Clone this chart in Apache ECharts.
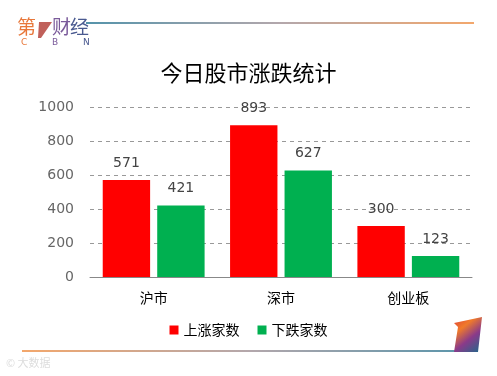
<!DOCTYPE html>
<html>
<head>
<meta charset="utf-8">
<script src="https://cdn.jsdelivr.net/npm/echarts@6/dist/echarts.min.js"></script>
<style>
html, body { margin: 0; padding: 0; background: #fff; }
#main { width: 497px; height: 376px; }
</style>
</head>
<body>
<div id="main"></div>
<script>
var categories = ['沪市', '深市', '创业板'];
var upName = '上涨家数';
var downName = '下跌家数';
var upValues = [571, 893, 300];
var downValues = [421, 627, 123];
var yTicks = [0, 200, 400, 600, 800, 1000];

var chart = echarts.init(document.getElementById('main'));
var cjk = '"Noto Sans CJK SC", sans-serif';

// logo 用的单字
function logoText(x, y, txt, size, color, font) {
    return { type: 'text', x: x, y: y, style: { text: txt, fontSize: size, fontFamily: font || cjk, fill: color } };
}

var option = {
    backgroundColor: '#FFFFFF',
    animation: false,
    title: {
        text: '今日股市涨跌统计',
        left: 'center',
        top: 57,
        textStyle: { color: '#000', fontSize: 22, fontWeight: 'normal', fontFamily: cjk }
    },
    legend: {
        data: [upName, downName],
        left: 'center',
        top: 318,
        itemWidth: 9,
        itemHeight: 9,
        itemGap: 18,
        icon: 'rect',
        textStyle: { color: '#000', fontSize: 14, fontFamily: cjk }
    },
    grid: { left: 90, right: 25, top: 107, bottom: 99 },
    xAxis: {
        type: 'category',
        data: categories,
        axisLine: { lineStyle: { color: '#888' } },
        axisTick: { show: false },
        axisLabel: { color: '#000', fontSize: 14, fontFamily: cjk, margin: 14 }
    },
    yAxis: {
        type: 'value',
        min: yTicks[0],
        max: yTicks[yTicks.length - 1],
        interval: 200,
        axisLine: { show: false },
        axisTick: { show: false },
        axisLabel: { color: '#666', fontSize: 14, fontFamily: 'DejaVu Sans', margin: 16,
            formatter: function (v) { return String(v); } },
        splitLine: { lineStyle: { color: '#999', type: [4, 4] } }
    },
    series: [
        {
            name: upName,
            type: 'bar',
            data: upValues,
            barGap: '15%',
            barCategoryGap: '20%',
            itemStyle: { color: '#ff0000' },
            label: { show: true, position: 'top', distance: 10, color: '#444', fontSize: 14, fontFamily: 'DejaVu Sans' }
        },
        {
            name: downName,
            type: 'bar',
            data: downValues,
            itemStyle: { color: '#00b050' },
            label: { show: true, position: 'top', distance: 10, color: '#444', fontSize: 14, fontFamily: 'DejaVu Sans' }
        }
    ],
    graphic: [
        // 顶部渐变线
        {
            type: 'line', shape: { x1: 86, y1: 23, x2: 474, y2: 23 },
            style: { lineWidth: 1.5, stroke: new echarts.graphic.LinearGradient(0, 0, 1, 0, [
                { offset: 0, color: '#1a6f8e' }, { offset: 0.5, color: '#9a8a90' }, { offset: 1, color: '#f08a3a' }]) }
        },
        // 底部渐变线
        {
            type: 'line', shape: { x1: 22, y1: 351, x2: 478, y2: 351 },
            style: { lineWidth: 1.5, stroke: new echarts.graphic.LinearGradient(0, 0, 1, 0, [
                { offset: 0, color: '#f08a3a' }, { offset: 0.5, color: '#9a8a90' }, { offset: 1, color: '#1a6f8e' }]) }
        },
        // 右下角装饰
        {
            type: 'polygon',
            shape: { points: [[454, 323], [482, 317], [478, 352], [454, 352], [458, 327]] },
            style: { fill: new echarts.graphic.LinearGradient(0, 0, 1, 1, [
                { offset: 0, color: '#e0403a' }, { offset: 0.3, color: '#f07a2a' }, { offset: 0.6, color: '#8a3a8a' }, { offset: 1, color: '#1a6a8a' }]) }
        },
        // logo
        logoText(17, 17, '第', 19, '#e8773a'),
        { type: 'polygon', shape: { points: [[39, 22], [52, 22], [41, 38], [38, 38]] }, style: { fill: '#c0605a' } },
        logoText(52, 17, '财', 19, '#7a5a9a'),
        logoText(70, 17, '经', 19, '#4a5a90'),
        logoText(21, 38, 'C', 9, '#e8773a', 'DejaVu Sans'),
        logoText(52, 38, 'B', 9, '#7a5a9a', 'DejaVu Sans'),
        logoText(83, 38, 'N', 9, '#4a5a90', 'DejaVu Sans'),
        // 水印
        {
            type: 'text', x: 6, y: 357,
            style: { text: '© 大数据', fontSize: 11, fontFamily: cjk, fill: '#ddd' }
        }
    ]
};

chart.setOption(option);
</script>
</body>
</html>
